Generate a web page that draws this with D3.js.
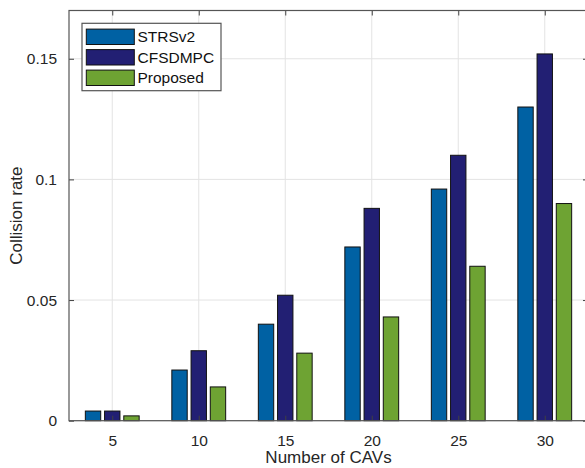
<!DOCTYPE html>
<html>
<head>
<meta charset="utf-8">
<script src="https://cdn.jsdelivr.net/npm/d3@7"></script>
<style>
  body { margin: 0; background: #fff; }
  svg { display: block; font-family: "Liberation Sans", Arial, Helvetica, sans-serif; }
  .tick text { fill: #262626; }
</style>
</head>
<body>
<div id="chart"></div>
<script>
const width = 585, height = 468;

// data
const categories = [5, 10, 15, 20, 25, 30];
const seriesNames = ["STRSv2", "CFSDMPC", "Proposed"];
const strsv2 = [0.004, 0.021, 0.040, 0.072, 0.096, 0.130];
const cfsdmpc = [0.004, 0.029, 0.052, 0.088, 0.110, 0.152];
const proposed = [0.002, 0.014, 0.028, 0.043, 0.064, 0.090];
const yTicks = [0, 0.05, 0.1, 0.15];
const yTickLabels = ["0", "0.05", "0.1", "0.15"];

const colors = ["#0061a3", "#221f73", "#6ea333"];
const series = [strsv2, cfsdmpc, proposed];

// the axes box runs a little past the right edge of the picture
const margin = { left: 69, right: 588, top: 10.5, bottom: 420.7 };

const svg = d3.select('#chart')
    .append('svg')
      .attr('width', width)
      .attr('height', height);

const x = d3.scaleLinear().domain([2.5, 32.5]).range([margin.left, margin.right]);
const y = d3.scaleLinear().domain([0, 0.17]).range([margin.bottom, margin.top]);

// grid lines
svg.append('g')
    .selectAll('line.xg')
    .data(categories)
    .enter().append('line')
      .attr('x1', d => x(d)).attr('x2', d => x(d))
      .attr('y1', margin.top).attr('y2', margin.bottom)
      .attr('stroke', '#e3e3e3').attr('stroke-width', 1);
svg.append('g')
    .selectAll('line.yg')
    .data(yTicks)
    .enter().append('line')
      .attr('x1', margin.left).attr('x2', margin.right)
      .attr('y1', d => y(d)).attr('y2', d => y(d))
      .attr('stroke', '#e3e3e3').attr('stroke-width', 1);

// bars: matlab style grouped layout
const slot = 5 * (3 / 4.5) / 3;
const barW = 0.8 * slot;
series.forEach((vals, s) => {
    svg.append('g')
      .selectAll('rect')
      .data(vals)
      .enter().append('rect')
        .attr('x', (d, i) => x(categories[i] + (s - 1) * slot - barW / 2))
        .attr('width', x(barW) - x(0))
        .attr('y', d => y(d))
        .attr('height', d => y(0) - y(d))
        .attr('fill', colors[s])
        .attr('stroke', '#111')
        .attr('stroke-width', 1);
});

// axes with inward ticks
svg.append('g')
    .attr('transform', `translate(0,${margin.bottom})`)
    .call(d3.axisBottom(x).tickValues(categories).tickSizeInner(-5).tickSizeOuter(0).tickPadding(14));
svg.append('g')
    .attr('transform', `translate(${margin.left},0)`)
    .call(d3.axisLeft(y).tickValues(yTicks).tickFormat((d, i) => yTickLabels[i]).tickSizeInner(-5).tickSizeOuter(0).tickPadding(12));
svg.append('g')
    .attr('transform', `translate(0,${margin.top})`)
    .call(d3.axisTop(x).tickValues(categories).tickSizeInner(-5).tickSizeOuter(0).tickFormat(''));
svg.append('g')
    .attr('transform', `translate(${margin.right},0)`)
    .call(d3.axisRight(y).tickValues(yTicks).tickSizeInner(-5).tickSizeOuter(0).tickFormat(''));

svg.selectAll('.domain').remove();
svg.selectAll('.tick line').attr('stroke', '#404040');
svg.selectAll('.tick text').attr('font-size', 15.5).attr('font-family', null);

svg.append('rect')
    .attr('x', margin.left).attr('y', margin.top)
    .attr('width', margin.right - margin.left)
    .attr('height', margin.bottom - margin.top)
    .attr('fill', 'none')
    .attr('stroke', '#555')
    .attr('stroke-width', 1.2);

// axis labels
svg.append('text')
    .attr('x', (margin.left + margin.right) / 2)
    .attr('y', 463)
    .attr('text-anchor', 'middle')
    .attr('font-size', 17)
    .attr('fill', '#262626')
    .text('Number of CAVs');
svg.append('text')
    .attr('transform', `translate(22,${(margin.top + margin.bottom) / 2}) rotate(-90)`)
    .attr('text-anchor', 'middle')
    .attr('font-size', 17)
    .attr('fill', '#262626')
    .text('Collision rate');

// legend
const legend = svg.append('g');
legend.append('rect')
    .attr('x', 82).attr('y', 23.3)
    .attr('width', 139).attr('height', 67.4)
    .attr('fill', '#fff')
    .attr('stroke', '#555')
    .attr('stroke-width', 1.2);
seriesNames.forEach((name, i) => {
    const cy = 36.8 + i * 20.5;
    legend.append('rect')
        .attr('x', 86.3).attr('y', cy - 7.7)
        .attr('width', 48).attr('height', 15.4)
        .attr('fill', colors[i])
        .attr('stroke', '#111')
        .attr('stroke-width', 1);
    legend.append('text')
        .attr('x', 137.5).attr('y', cy + 5.6)
        .attr('font-size', 15.5)
        .attr('fill', '#111')
        .text(name);
});
</script>
</body>
</html>
